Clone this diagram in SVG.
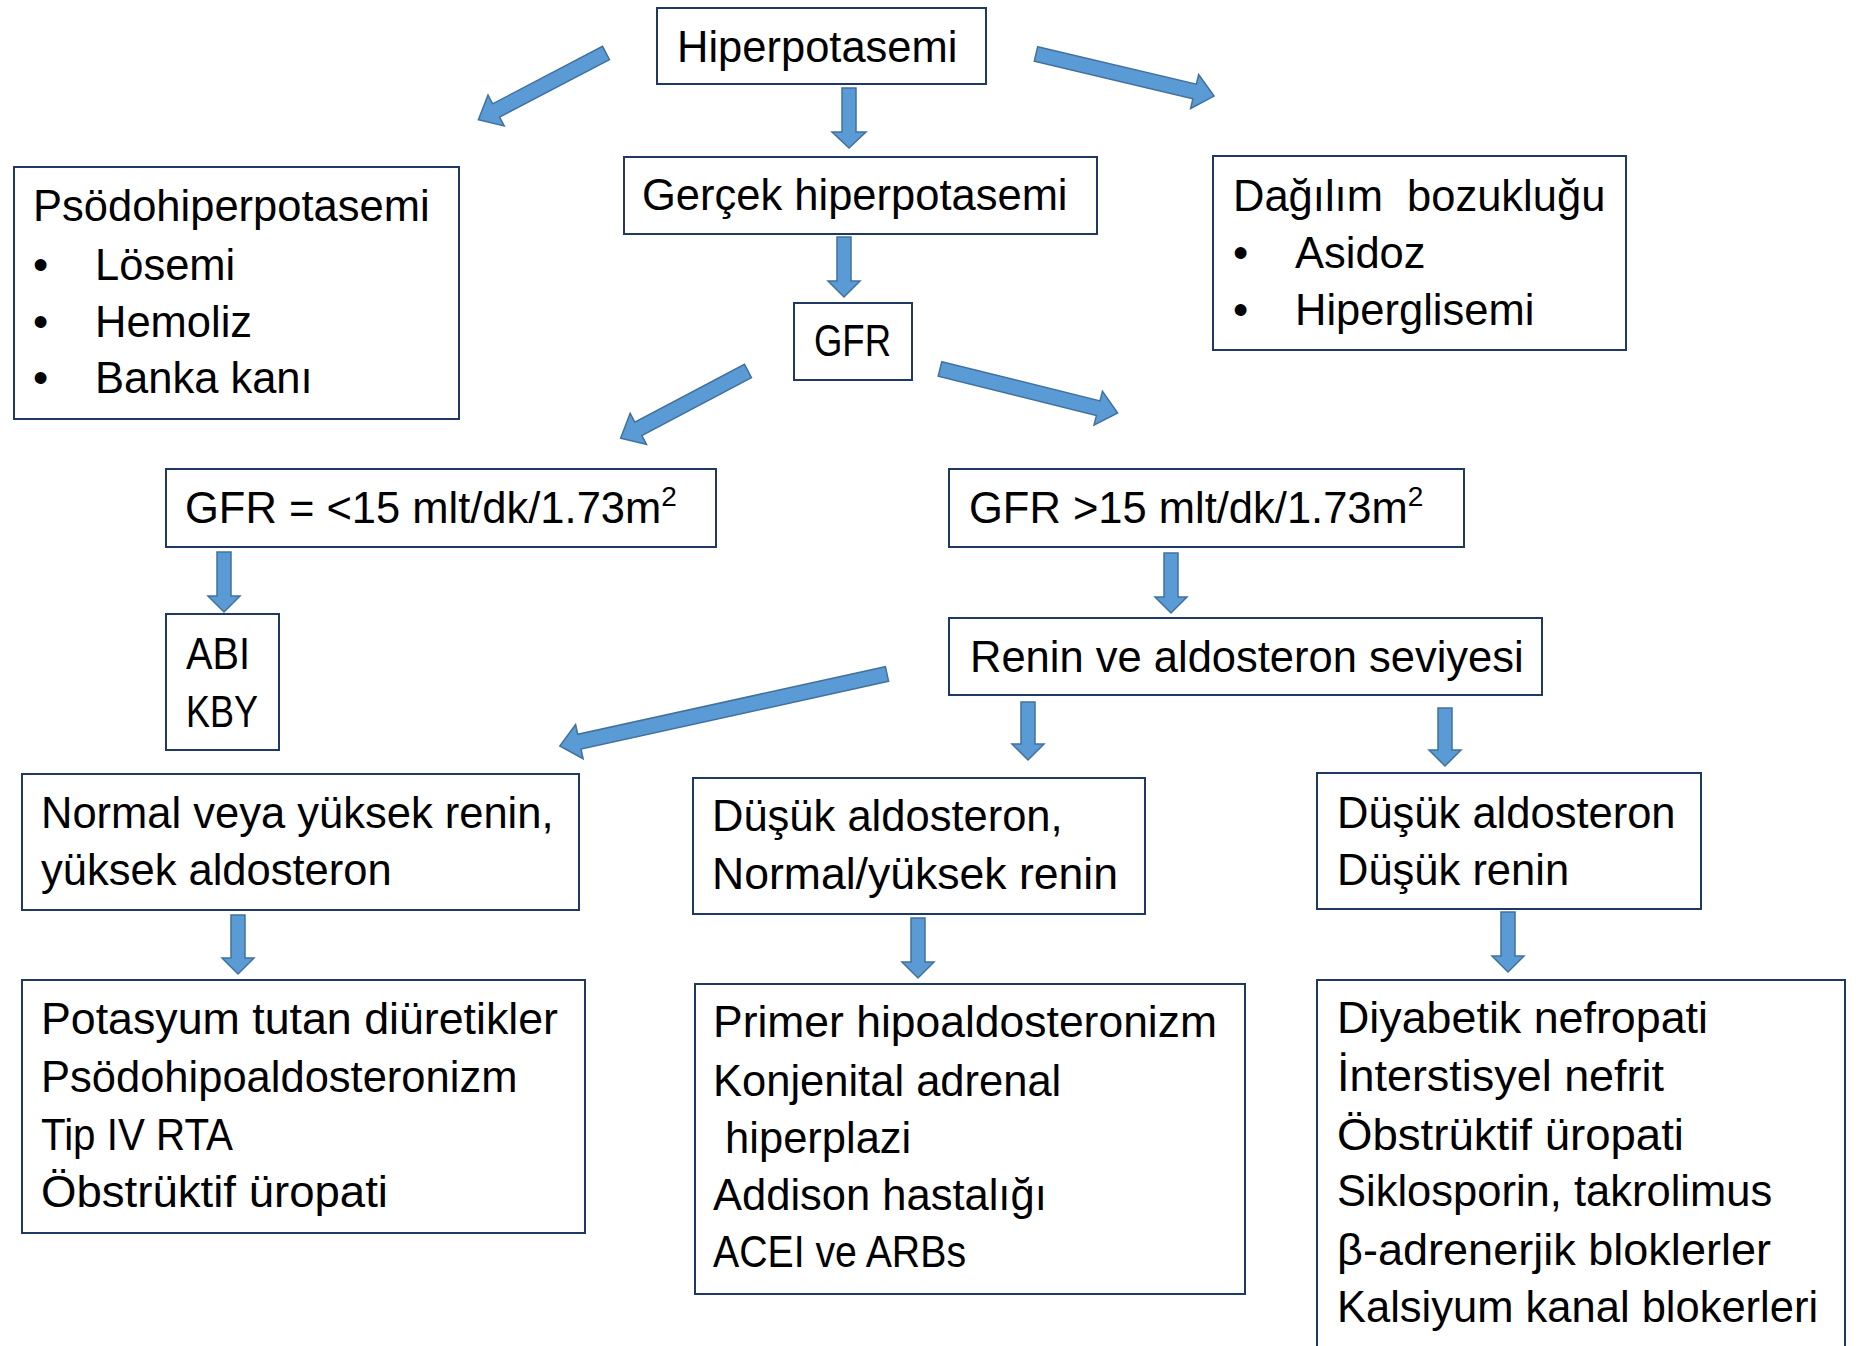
<svg xmlns="http://www.w3.org/2000/svg" width="1863" height="1346" viewBox="0 0 1863 1346">
<style>
  .box { fill: #ffffff; stroke: #203864; stroke-width: 2; }
  .t { font-family: "Liberation Sans", Arial, sans-serif; font-size: 43.5px; fill: #000000; }
  .sup { font-size: 28px; }
  .arr { fill: #5B9BD5; stroke: #41719C; stroke-width: 1.5; stroke-linejoin: miter; }
</style>
<rect x="0" y="0" width="1863" height="1346" fill="#ffffff"/>

<g id="connectors">
  <path class="arr" d="M842,88 H856 V132 H866 L849,148 L832,132 H842 Z"/>
  <path class="arr" d="M837,237 H851 V281 H860 L844,297 L828,281 H837 Z"/>
  <path class="arr" d="M217,552 H231 V596 H240 L224,612 L208,596 H217 Z"/>
  <path class="arr" d="M1164,553 H1178 V597 H1187 L1171,613 L1155,597 H1164 Z"/>
  <path class="arr" d="M1021,702 H1035 V744 H1044 L1028,760 L1012,744 H1021 Z"/>
  <path class="arr" d="M1438,708 H1452 V750 H1461 L1445,766 L1429,750 H1438 Z"/>
  <path class="arr" d="M231,915 H245 V958 H254 L238,974 L222,958 H231 Z"/>
  <path class="arr" d="M911,918 H925 V962 H934 L918,978 L902,962 H911 Z"/>
  <path class="arr" d="M1501,912 H1515 V956 H1524 L1508,972 L1492,956 H1501 Z"/>
  <path class="arr" transform="translate(606,53) rotate(152.4)" d="M0,-7.5 H124 V-17.5 L144,0 L124,17.5 V7.5 H0 Z"/>
  <path class="arr" transform="translate(1036,54) rotate(13.3)" d="M0,-7.5 H163 V-17.5 L183,0 L163,17.5 V7.5 H0 Z"/>
  <path class="arr" transform="translate(748,371) rotate(152.2)" d="M0,-7.5 H124 V-17.5 L144,0 L124,17.5 V7.5 H0 Z"/>
  <path class="arr" transform="translate(940,369) rotate(13.9)" d="M0,-7.5 H163 V-17.5 L183,0 L163,17.5 V7.5 H0 Z"/>
  <path class="arr" transform="translate(887,674) rotate(167.6)" d="M0,-7.5 H315 V-17.5 L335,0 L315,17.5 V7.5 H0 Z"/>
</g>

<g id="n-hiperpotasemi">
  <rect class="box" x="657" y="8" width="329" height="76"/>
  <text class="t" x="677" y="62">Hiperpotasemi</text>
</g>

<g id="n-psodo">
  <rect class="box" x="14" y="167" width="445" height="252"/>
  <text class="t" x="33" y="221">Psödohiperpotasemi</text>
  <text class="t" x="33" y="280">•</text><text class="t" x="95" y="280">Lösemi</text>
  <text class="t" x="33" y="337">•</text><text class="t" x="95" y="337">Hemoliz</text>
  <text class="t" x="33" y="393">•</text><text class="t" x="95" y="393">Banka kanı</text>
</g>

<g id="n-gercek">
  <rect class="box" x="624" y="157" width="473" height="77"/>
  <text class="t" x="642" y="210">Gerçek hiperpotasemi</text>
</g>

<g id="n-dagilim">
  <rect class="box" x="1213" y="156" width="413" height="194"/>
  <text class="t" x="1233" y="211" xml:space="preserve">Dağılım  bozukluğu</text>
  <text class="t" x="1233" y="268">•</text><text class="t" x="1295" y="268">Asidoz</text>
  <text class="t" x="1233" y="325">•</text><text class="t" x="1295" y="325">Hiperglisemi</text>
</g>

<g id="n-gfr">
  <rect class="box" x="794" y="303" width="118" height="77"/>
  <text class="t" x="814" y="356" textLength="77" lengthAdjust="spacingAndGlyphs">GFR</text>
</g>

<g id="n-gfr-low">
  <rect class="box" x="166" y="469" width="550" height="78"/>
  <text class="t" x="185" y="523">GFR = &lt;15 mlt/dk/1.73m<tspan class="sup" dy="-17">2</tspan></text>
</g>

<g id="n-gfr-high">
  <rect class="box" x="949" y="469" width="515" height="78"/>
  <text class="t" x="969" y="523">GFR &gt;15 mlt/dk/1.73m<tspan class="sup" dy="-17">2</tspan></text>
</g>

<g id="n-abi">
  <rect class="box" x="166" y="614" width="113" height="136"/>
  <text class="t" x="186" y="669" textLength="64" lengthAdjust="spacingAndGlyphs">ABI</text>
  <text class="t" x="186" y="727" textLength="72" lengthAdjust="spacingAndGlyphs">KBY</text>
</g>

<g id="n-renin">
  <rect class="box" x="949" y="618" width="593" height="77"/>
  <text class="t" x="970" y="672">Renin ve aldosteron seviyesi</text>
</g>

<g id="n-normal">
  <rect class="box" x="22" y="774" width="557" height="136"/>
  <text class="t" x="41" y="828">Normal veya yüksek renin,</text>
  <text class="t" x="41" y="885">yüksek aldosteron</text>
</g>

<g id="n-dusuk-normal">
  <rect class="box" x="693" y="778" width="452" height="136"/>
  <text class="t" x="712" y="831">Düşük aldosteron,</text>
  <text class="t" x="712" y="889" textLength="406" lengthAdjust="spacingAndGlyphs">Normal/yüksek renin</text>
</g>

<g id="n-dusuk-dusuk">
  <rect class="box" x="1317" y="773" width="384" height="136"/>
  <text class="t" x="1337" y="828">Düşük aldosteron</text>
  <text class="t" x="1337" y="885">Düşük renin</text>
</g>

<g id="n-potasyum">
  <rect class="box" x="22" y="980" width="563" height="253"/>
  <text class="t" x="41" y="1034" textLength="517" lengthAdjust="spacingAndGlyphs">Potasyum tutan diüretikler</text>
  <text class="t" x="41" y="1092">Psödohipoaldosteronizm</text>
  <text class="t" x="41" y="1150" textLength="192" lengthAdjust="spacingAndGlyphs">Tip IV RTA</text>
  <text class="t" x="41" y="1207" textLength="347" lengthAdjust="spacingAndGlyphs">Öbstrüktif üropati</text>
</g>

<g id="n-primer">
  <rect class="box" x="695" y="984" width="550" height="310"/>
  <text class="t" x="713" y="1037" textLength="504" lengthAdjust="spacingAndGlyphs">Primer hipoaldosteronizm</text>
  <text class="t" x="713" y="1096">Konjenital adrenal</text>
  <text class="t" x="713" y="1153" xml:space="preserve"> hiperplazi</text>
  <text class="t" x="713" y="1210">Addison hastalığı</text>
  <text class="t" x="713" y="1267" textLength="253" lengthAdjust="spacingAndGlyphs">ACEI ve ARBs</text>
</g>

<g id="n-diyabetik">
  <rect class="box" x="1317" y="980" width="528" height="400"/>
  <text class="t" x="1337" y="1033" textLength="371" lengthAdjust="spacingAndGlyphs">Diyabetik nefropati</text>
  <text class="t" x="1337" y="1091" textLength="327" lengthAdjust="spacingAndGlyphs">İnterstisyel nefrit</text>
  <text class="t" x="1337" y="1150" textLength="347" lengthAdjust="spacingAndGlyphs">Öbstrüktif üropati</text>
  <text class="t" x="1337" y="1206">Siklosporin, takrolimus</text>
  <text class="t" x="1337" y="1265" textLength="434" lengthAdjust="spacingAndGlyphs">β-adrenerjik bloklerler</text>
  <text class="t" x="1337" y="1322">Kalsiyum kanal blokerleri</text>
</g>
</svg>
